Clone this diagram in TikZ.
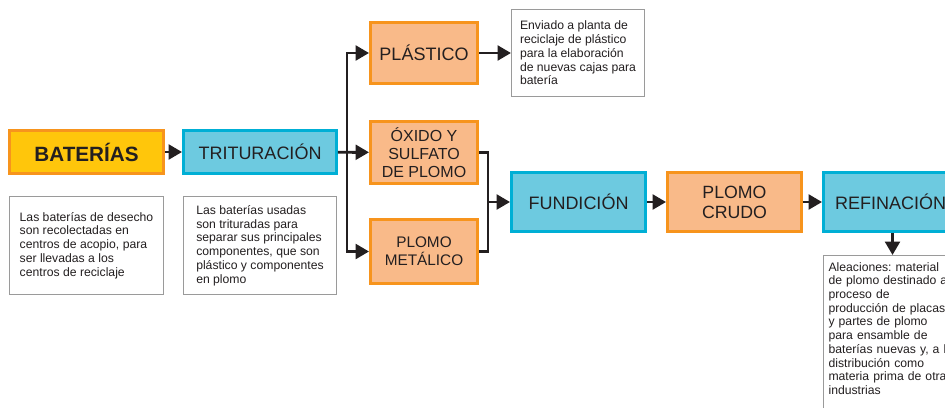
\documentclass[tikz,border=0pt]{standalone}
\usepackage{fontspec}
\setmainfont{Liberation Sans}
\frenchspacing
\usetikzlibrary{arrows.meta}
\definecolor{ink}{HTML}{231F20}
\definecolor{yel}{HTML}{FFC60B}
\definecolor{orbord}{HTML}{F7941D}
\definecolor{orfill}{HTML}{F9BA89}
\definecolor{blfill}{HTML}{6DCAE0}
\definecolor{blbord}{HTML}{00AFD5}
\definecolor{descgray}{HTML}{9A9A9A}
\begin{document}
\begin{tikzpicture}[x=0.75pt,y=-0.75pt,
  box/.style={draw, line width=2.2pt, text=ink, align=center, inner sep=0pt},
  yelbox/.style={box, draw=orbord, fill=yel},
  orbox/.style={box, draw=orbord, fill=orfill},
  bluebox/.style={box, draw=blbord, fill=blfill},
  bigfont/.style={font=\fontsize{13.5}{15}\selectfont},
  descbox/.style={draw=descgray, line width=0.8pt, fill=white, text=ink, align=left, font=\fontsize{9.15}{10.3}\selectfont, inner sep=0pt},
  conn/.style={line width=2.2pt, draw=ink, line join=miter},
  arr/.style={conn, -{Triangle[length=10pt,width=11pt]}},
]
\useasboundingbox (0,0) rectangle (945,407);
\fill[white] (0,0) rectangle (945,407);
\clip (0,0) rectangle (945,407);

% main boxes
\node[yelbox, minimum width=115.5pt, minimum height=32.25pt, font=\bfseries\fontsize{15.5}{18}\selectfont] (bat) at (86.5,152) {BATERÍAS};
\node[bluebox, bigfont, minimum width=114.75pt, minimum height=32.25pt] (trit) at (260,152) {TRITURACIÓN};
\node[orbox, bigfont, minimum width=80.25pt, minimum height=45.75pt] (plas) at (424,53) {PLÁSTICO};
\node[orbox, font=\fontsize{12}{13.5}\selectfont, minimum width=80.25pt, minimum height=46.5pt] (oxi) at (424,152.5) {ÓXIDO Y\\SULFATO\\DE PLOMO};
\node[orbox, font=\fontsize{11.5}{13.5}\selectfont, minimum width=80.25pt, minimum height=48pt] (met) at (424,251.5) {PLOMO\\METÁLICO};
\node[bluebox, bigfont, minimum width=100.5pt, minimum height=44.25pt] (fund) at (578.5,202) {FUNDICIÓN};
\node[orbox, font=\fontsize{13.3}{15}\selectfont, minimum width=100.5pt, minimum height=44.25pt] (crudo) at (734.5,202) {PLOMO\\CRUDO};
\node[bluebox, bigfont, minimum width=100.5pt, minimum height=44.25pt] (ref) at (890.5,202) {REFINACIÓN};

% description boxes
\node[descbox, minimum width=115.5pt, minimum height=73.5pt] (d1) at (86.5,245.5)
  {Las baterías de desecho\\son recolectadas en\\centros de acopio, para\\ser llevadas a los\\centros de reciclaje};
\node[descbox, minimum width=114.75pt, minimum height=73.5pt] (d2) at (260,245.5)
  {Las baterías usadas\\son trituradas para\\separar sus principales\\componentes, que son\\plástico y componentes\\en plomo};
\node[descbox, minimum width=99.75pt, minimum height=65.25pt] (d3) at (578,53)
  {Enviado a planta de\\reciclaje de plástico\\para la elaboración\\de nuevas cajas para\\batería};
\node[descbox, anchor=north west, text width=96pt, inner xsep=3.75pt, inner ysep=5pt] (d4) at (823,255)
  {Aleaciones: material\\de plomo destinado al\\proceso de\\producción de placas\\y partes de plomo\\para ensamble de\\baterías nuevas y, a la\\distribución como\\materia prima de otras\\industrias\\[14pt]\mbox{}};

% connectors
\coordinate (j1) at (347,152);
\coordinate (j2) at (488,202);
\draw[arr] (bat) -- (trit);
\draw[arr] (trit) -- (oxi);
\draw[arr] (j1) |- (plas.west);
\draw[arr] (j1) |- (met.west);
\draw[arr] (plas) -- (d3);
\draw[conn] (oxi.east) -| (j2) |- (met.east);
\draw[arr] (j2) -- (fund.west);
\draw[arr] (fund) -- (crudo);
\draw[arr] (crudo) -- (ref);
\draw[arr] ([xshift=1.5]ref.south) -- ([xshift=1.5]ref.south |- d4.north);
\end{tikzpicture}
\end{document}
